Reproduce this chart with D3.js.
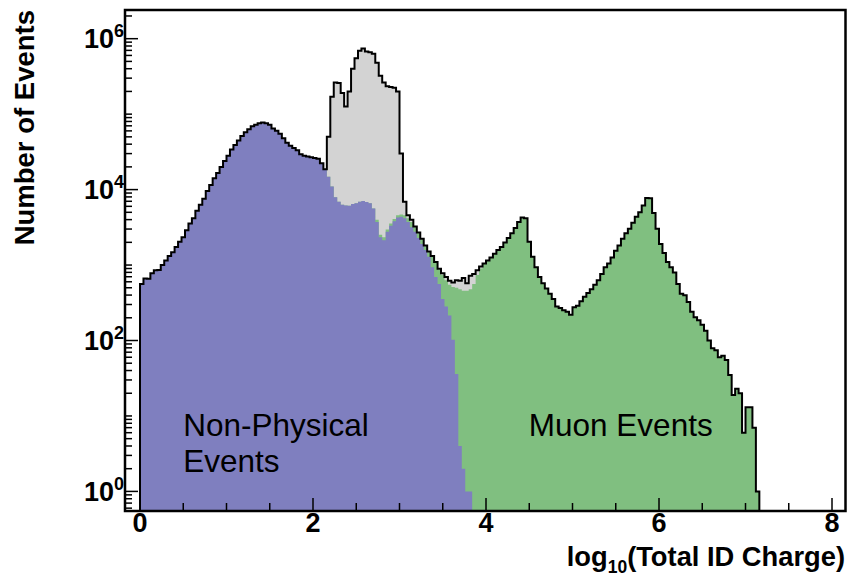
<!DOCTYPE html>
<html><head><meta charset="utf-8">
<script src="https://cdn.jsdelivr.net/npm/d3@7"></script>
<style>body{margin:0;background:#fff}</style>
</head><body>
<svg id="chart" width="850" height="577"></svg>
<script>
// ---- data (bins of 0.04 in log10(Total ID Charge), starting at 0) ----
const binWidth = 0.04;
const totalEvents = [
562,661,660,776,851,860,1000,1148,1318,1479,1738,2042,2344,2884,3548,4169,5248,6310,7586,9550,
11480,14130,16600,19950,23990,28180,33880,38900,44670,51290,57540,63100,69180,72440,75860,77620,75860,72440,64570,60260,
54950,47860,41690,38020,35480,33110,29510,28180,27540,26920,26300,25700,22390,18620,50120,169800,263000,258000,190500,125900,
199500,398100,549500,691800,741300,676100,660700,631000,478600,323600,263000,234400,229100,223900,199500,30200,6918,4571,3981,3236,
2692,2239,1820,1514,1318,1096,891,776,692,617,589,631,617,676,575,724,759,851,955,1047,
1148,1259,1413,1585,1738,1995,2291,2630,3090,3715,4266,4169,2042,1288,933,692,575,490,417,355,
282,269,251,240,219,275,288,331,380,427,479,550,631,759,933,1047,1259,1549,1820,2239,
2630,3020,3631,4365,5012,6166,7762,7700,4898,3020,1905,1445,1096,933,794,562,417,398,324,240,
204,186,162,135,100,79,74,60,63,55,35,19,23,20,6,13,13,7,1
];
const nonPhysicalEvents = [
562,661,660,776,851,860,1000,1148,1318,1479,1738,2042,2344,2884,3548,4169,5248,6310,7586,9550,
11480,14130,16600,19950,23990,28180,33880,38900,44670,51290,57540,63100,69180,72440,75860,77620,75860,72440,64570,60260,
54950,47860,41690,38020,35480,33110,29510,28180,27540,26920,26300,25700,22390,18620,14790,10960,7943,6918,6310,6166,
6100,6457,6607,6918,7079,6850,6607,5623,3715,2344,2138,2754,3311,3802,4266,4365,4169,3715,3162,2754,
2291,1905,1585,1288,933,692,562,355,282,214,102,36,4,2,1,1
];
const muonFirstBin = 68;
const muonEvents = [
266,168,206,197,237,272,305,312,402,454,553,408,339,283,193,191,355,380,309,386,
349,336,411,465,475,455,456,478,562,740,900,1047,
1148,1259,1413,1585,1738,1995,2291,2630,3090,3715,4266,4169,2042,1288,933,692,575,490,417,355,
282,269,251,240,219,275,288,331,380,427,479,550,631,759,933,1047,1259,1549,1820,2239,
2630,3020,3631,4365,5012,6166,7762,7700,4898,3020,1905,1445,1096,933,794,562,417,398,324,240,
204,186,162,135,100,79,74,60,63,55,35,19,23,20,6,13,13,7,1
];
const xTickValues = [0, 2, 4, 6, 8];
const xTickLabels = ["0", "2", "4", "6", "8"];
const yLabelExponents = [0, 2, 4, 6];
const regionLabels = [
  {lines: ["Non-Physical", "Events"], x: 0.5},
  {lines: ["Muon Events"], x: 4.495}
];

// ---- layout ----
const font = "'Liberation Sans', Arial, Helvetica, sans-serif";
const plot = {left: 125, right: 845.5, top: 10, bottom: 511};
const x = d3.scaleLinear().domain([-0.1734, 8.156]).range([plot.left, plot.right]);
const yMin = 0.55, yMax = 2.4e6;
const y = d3.scaleLog().domain([yMin, yMax]).range([plot.bottom, plot.top]);
const floorV = yMin * 0.8;

const svg = d3.select("#chart");
svg.append("rect").attr("width", 850).attr("height", 577).attr("fill", "#fff");
svg.append("defs").append("clipPath").attr("id", "clip")
  .append("rect").attr("x", plot.left).attr("y", plot.top)
  .attr("width", plot.right - plot.left).attr("height", plot.bottom - plot.top);

const g = svg.append("g").attr("clip-path", "url(#clip)");

function stepPoints(vals, start) {
  const pts = vals.map((v, i) => ({x: (start + i) * binWidth, v}));
  pts.push({x: (start + vals.length) * binWidth, v: vals[vals.length - 1]});
  return pts;
}
const yc = v => y(Math.max(v, floorV));
const area = d3.area().curve(d3.curveStepAfter)
  .x(d => x(d.x)).y0(plot.bottom + 5).y1(d => yc(d.v));

const stacked = totalEvents.map((_, i) =>
  (nonPhysicalEvents[i] || 0) + (i >= muonFirstBin ? (muonEvents[i - muonFirstBin] || 0) : 0));

g.append("path").attr("d", area(stepPoints(totalEvents, 0))).attr("fill", "#d3d3d3");
g.append("path").attr("d", area(stepPoints(stacked, 0))).attr("fill", "#80bf80");
g.append("path").attr("d", area(stepPoints(nonPhysicalEvents, 0))).attr("fill", "#7f7fbf");

const outlinePts = stepPoints(totalEvents, 0);
const endX = outlinePts[outlinePts.length - 1].x;
const line = d3.line().curve(d3.curveStepAfter).x(d => x(d.x)).y(d => yc(d.v));
g.append("path")
  .attr("d", line([{x: 0, v: floorV}, ...outlinePts, {x: endX, v: floorV}]))
  .attr("fill", "none").attr("stroke", "#000").attr("stroke-width", 2);

// ---- region labels ----
regionLabels.forEach(r => {
  const t = svg.append("text").attr("font-family", font).attr("font-size", 31.5)
    .attr("fill", "#000").attr("x", x(r.x)).attr("y", 436);
  r.lines.forEach((s, k) => t.append("tspan").attr("x", x(r.x)).attr("dy", k === 0 ? 0 : 36).text(s));
});

// ---- ticks ----
const ticks = svg.append("g").attr("stroke", "#000").attr("stroke-width", 1.5);
d3.range(0, 8.01, 0.5).forEach(v => {
  const major = xTickValues.includes(v);
  ticks.append("line").attr("x1", x(v)).attr("x2", x(v))
    .attr("y1", plot.bottom).attr("y2", plot.bottom - (major ? 13 : 8));
});
y.ticks().forEach(v => {
  const e = Math.log10(v);
  const major = Math.abs(e - Math.round(e)) < 1e-6 && yLabelExponents.includes(Math.round(e));
  ticks.append("line").attr("x1", plot.left).attr("x2", plot.left + (major ? 13 : 7))
    .attr("y1", y(v)).attr("y2", y(v));
});

// ---- frame ----
svg.append("rect").attr("x", plot.left).attr("y", plot.top)
  .attr("width", plot.right - plot.left).attr("height", plot.bottom - plot.top)
  .attr("fill", "none").attr("stroke", "#000").attr("stroke-width", 2.5);

// ---- tick labels ----
xTickValues.forEach((v, i) => {
  svg.append("text").attr("x", x(v)).attr("y", 532).attr("text-anchor", "middle")
    .attr("font-family", font).attr("font-weight", "bold").attr("font-size", 27)
    .text(xTickLabels[i]);
});
yLabelExponents.forEach(e => {
  const t = svg.append("text").attr("x", 124).attr("y", y(Math.pow(10, e)) + 9.5)
    .attr("text-anchor", "end").attr("font-family", font).attr("font-weight", "bold")
    .attr("font-size", 27);
  t.append("tspan").text("10");
  t.append("tspan").attr("dy", -11).attr("font-size", 18).text(String(e));
});

// ---- axis titles ----
const xt = svg.append("text").attr("x", 845).attr("y", 566).attr("text-anchor", "end")
  .attr("font-family", font).attr("font-weight", "bold").attr("font-size", 27.3);
xt.append("tspan").text("log");
xt.append("tspan").attr("dy", 7).attr("font-size", 17.5).text("10");
xt.append("tspan").attr("dy", -7).text("(Total ID Charge)");

svg.append("text").attr("transform", "translate(34,10) rotate(-90)")
  .attr("text-anchor", "end").attr("font-family", font).attr("font-weight", "bold")
  .attr("font-size", 27.5).text("Number of Events");
</script>
</body></html>
